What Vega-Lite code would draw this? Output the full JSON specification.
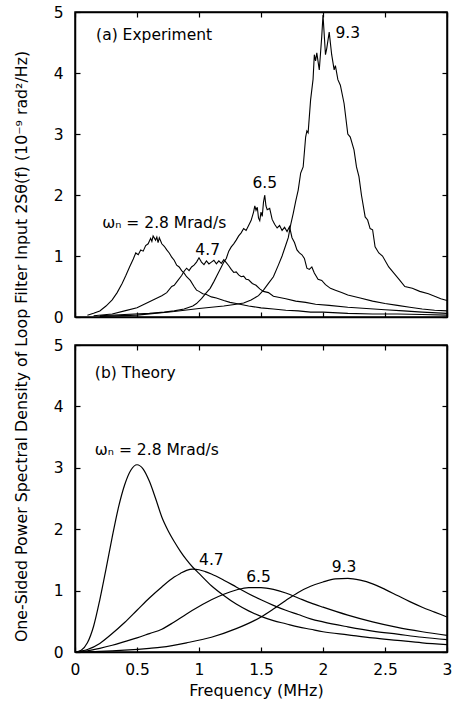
{
  "$schema": "https://vega.github.io/schema/vega-lite/v6.json",
  "padding": {"left": 12, "top": 4, "right": 0, "bottom": 0},
  "background": "white",
  "config": {
    "font": "DejaVu Sans",
    "view": {"stroke": "black", "strokeWidth": 1.5},
    "axis": {"domainColor": "black", "domainWidth": 1.5, "tickColor": "black", "tickSize": -5, "tickWidth": 1.2, "labelColor": "black", "labelFontSize": 15.5, "labelFlush": false, "grid": false, "titleColor": "black", "titleFontWeight": "normal", "labelFont": "DejaVu Sans", "titleFont": "DejaVu Sans"},
    "text": {"font": "DejaVu Sans", "fontSize": 15.5, "color": "black"}
  },
  "datasets": {
    "exp": [
      {"w":"2.8","f":0.1,"v":0.03},{"w":"2.8","f":0.15,"v":0.06},{"w":"2.8","f":0.2,"v":0.1},{"w":"2.8","f":0.25,"v":0.18},{"w":"2.8","f":0.3,"v":0.28},{"w":"2.8","f":0.34,"v":0.4},{"w":"2.8","f":0.38,"v":0.55},{"w":"2.8","f":0.41,"v":0.68},{"w":"2.8","f":0.44,"v":0.82},{"w":"2.8","f":0.47,"v":0.95},{"w":"2.8","f":0.49,"v":1.05},{"w":"2.8","f":0.51,"v":1.02},{"w":"2.8","f":0.53,"v":1.1},{"w":"2.8","f":0.55,"v":1.08},{"w":"2.8","f":0.57,"v":1.17},{"w":"2.8","f":0.59,"v":1.2},{"w":"2.8","f":0.61,"v":1.29},{"w":"2.8","f":0.62,"v":1.24},{"w":"2.8","f":0.63,"v":1.33},{"w":"2.8","f":0.65,"v":1.26},{"w":"2.8","f":0.66,"v":1.31},{"w":"2.8","f":0.67,"v":1.22},{"w":"2.8","f":0.68,"v":1.3},{"w":"2.8","f":0.7,"v":1.2},{"w":"2.8","f":0.72,"v":1.16},{"w":"2.8","f":0.74,"v":1.1},{"w":"2.8","f":0.76,"v":1.05},{"w":"2.8","f":0.78,"v":0.98},{"w":"2.8","f":0.8,"v":0.93},{"w":"2.8","f":0.82,"v":0.85},{"w":"2.8","f":0.84,"v":0.82},{"w":"2.8","f":0.86,"v":0.76},{"w":"2.8","f":0.88,"v":0.72},{"w":"2.8","f":0.9,"v":0.66},{"w":"2.8","f":0.93,"v":0.6},{"w":"2.8","f":0.96,"v":0.5},{"w":"2.8","f":0.98,"v":0.44},{"w":"2.8","f":1.0,"v":0.42},{"w":"2.8","f":1.03,"v":0.38},{"w":"2.8","f":1.06,"v":0.37},{"w":"2.8","f":1.1,"v":0.33},{"w":"2.8","f":1.14,"v":0.31},{"w":"2.8","f":1.2,"v":0.27},{"w":"2.8","f":1.25,"v":0.24},{"w":"2.8","f":1.3,"v":0.22},{"w":"2.8","f":1.4,"v":0.18},{"w":"2.8","f":1.5,"v":0.15},{"w":"2.8","f":1.6,"v":0.13},{"w":"2.8","f":1.7,"v":0.11},{"w":"2.8","f":1.8,"v":0.1},{"w":"2.8","f":1.9,"v":0.08},{"w":"2.8","f":2.0,"v":0.08},{"w":"2.8","f":2.2,"v":0.06},{"w":"2.8","f":2.4,"v":0.05},{"w":"2.8","f":2.6,"v":0.05},{"w":"2.8","f":2.8,"v":0.04},{"w":"2.8","f":3.0,"v":0.03},
      {"w":"4.7","f":0.15,"v":0.02},{"w":"4.7","f":0.3,"v":0.05},{"w":"4.7","f":0.4,"v":0.1},{"w":"4.7","f":0.5,"v":0.15},{"w":"4.7","f":0.55,"v":0.2},{"w":"4.7","f":0.6,"v":0.25},{"w":"4.7","f":0.65,"v":0.3},{"w":"4.7","f":0.7,"v":0.35},{"w":"4.7","f":0.74,"v":0.4},{"w":"4.7","f":0.78,"v":0.5},{"w":"4.7","f":0.8,"v":0.52},{"w":"4.7","f":0.83,"v":0.6},{"w":"4.7","f":0.86,"v":0.68},{"w":"4.7","f":0.88,"v":0.75},{"w":"4.7","f":0.9,"v":0.8},{"w":"4.7","f":0.92,"v":0.76},{"w":"4.7","f":0.94,"v":0.82},{"w":"4.7","f":0.96,"v":0.85},{"w":"4.7","f":0.98,"v":0.9},{"w":"4.7","f":1.0,"v":0.97},{"w":"4.7","f":1.02,"v":0.9},{"w":"4.7","f":1.04,"v":0.86},{"w":"4.7","f":1.06,"v":0.92},{"w":"4.7","f":1.08,"v":0.87},{"w":"4.7","f":1.1,"v":0.9},{"w":"4.7","f":1.12,"v":0.93},{"w":"4.7","f":1.14,"v":0.87},{"w":"4.7","f":1.16,"v":0.92},{"w":"4.7","f":1.18,"v":0.88},{"w":"4.7","f":1.2,"v":0.94},{"w":"4.7","f":1.22,"v":0.89},{"w":"4.7","f":1.24,"v":0.84},{"w":"4.7","f":1.26,"v":0.78},{"w":"4.7","f":1.28,"v":0.73},{"w":"4.7","f":1.3,"v":0.74},{"w":"4.7","f":1.32,"v":0.69},{"w":"4.7","f":1.34,"v":0.66},{"w":"4.7","f":1.36,"v":0.67},{"w":"4.7","f":1.38,"v":0.62},{"w":"4.7","f":1.4,"v":0.61},{"w":"4.7","f":1.43,"v":0.55},{"w":"4.7","f":1.46,"v":0.52},{"w":"4.7","f":1.49,"v":0.46},{"w":"4.7","f":1.52,"v":0.42},{"w":"4.7","f":1.56,"v":0.4},{"w":"4.7","f":1.6,"v":0.34},{"w":"4.7","f":1.65,"v":0.32},{"w":"4.7","f":1.7,"v":0.3},{"w":"4.7","f":1.78,"v":0.26},{"w":"4.7","f":1.86,"v":0.24},{"w":"4.7","f":1.94,"v":0.21},{"w":"4.7","f":2.05,"v":0.19},{"w":"4.7","f":2.2,"v":0.16},{"w":"4.7","f":2.35,"v":0.14},{"w":"4.7","f":2.5,"v":0.12},{"w":"4.7","f":2.65,"v":0.1},{"w":"4.7","f":2.8,"v":0.08},{"w":"4.7","f":3.0,"v":0.06},
      {"w":"6.5","f":0.2,"v":0.02},{"w":"6.5","f":0.4,"v":0.04},{"w":"6.5","f":0.6,"v":0.06},{"w":"6.5","f":0.72,"v":0.08},{"w":"6.5","f":0.8,"v":0.1},{"w":"6.5","f":0.88,"v":0.13},{"w":"6.5","f":0.95,"v":0.18},{"w":"6.5","f":0.98,"v":0.22},{"w":"6.5","f":1.02,"v":0.3},{"w":"6.5","f":1.06,"v":0.4},{"w":"6.5","f":1.09,"v":0.47},{"w":"6.5","f":1.12,"v":0.58},{"w":"6.5","f":1.15,"v":0.7},{"w":"6.5","f":1.18,"v":0.82},{"w":"6.5","f":1.2,"v":0.9},{"w":"6.5","f":1.22,"v":0.96},{"w":"6.5","f":1.24,"v":1.08},{"w":"6.5","f":1.26,"v":1.15},{"w":"6.5","f":1.28,"v":1.2},{"w":"6.5","f":1.3,"v":1.26},{"w":"6.5","f":1.32,"v":1.33},{"w":"6.5","f":1.34,"v":1.38},{"w":"6.5","f":1.36,"v":1.45},{"w":"6.5","f":1.38,"v":1.42},{"w":"6.5","f":1.4,"v":1.5},{"w":"6.5","f":1.42,"v":1.58},{"w":"6.5","f":1.44,"v":1.72},{"w":"6.5","f":1.45,"v":1.82},{"w":"6.5","f":1.46,"v":1.75},{"w":"6.5","f":1.47,"v":1.8},{"w":"6.5","f":1.48,"v":1.62},{"w":"6.5","f":1.49,"v":1.58},{"w":"6.5","f":1.5,"v":1.72},{"w":"6.5","f":1.51,"v":1.65},{"w":"6.5","f":1.52,"v":1.88},{"w":"6.5","f":1.53,"v":2.0},{"w":"6.5","f":1.54,"v":1.82},{"w":"6.5","f":1.55,"v":1.76},{"w":"6.5","f":1.57,"v":1.78},{"w":"6.5","f":1.59,"v":1.6},{"w":"6.5","f":1.61,"v":1.52},{"w":"6.5","f":1.63,"v":1.46},{"w":"6.5","f":1.65,"v":1.5},{"w":"6.5","f":1.67,"v":1.42},{"w":"6.5","f":1.69,"v":1.47},{"w":"6.5","f":1.71,"v":1.4},{"w":"6.5","f":1.73,"v":1.48},{"w":"6.5","f":1.75,"v":1.3},{"w":"6.5","f":1.77,"v":1.22},{"w":"6.5","f":1.79,"v":1.1},{"w":"6.5","f":1.81,"v":1.05},{"w":"6.5","f":1.83,"v":1.02},{"w":"6.5","f":1.85,"v":0.96},{"w":"6.5","f":1.87,"v":0.8},{"w":"6.5","f":1.89,"v":0.78},{"w":"6.5","f":1.91,"v":0.82},{"w":"6.5","f":1.93,"v":0.72},{"w":"6.5","f":1.96,"v":0.62},{"w":"6.5","f":1.99,"v":0.6},{"w":"6.5","f":2.02,"v":0.53},{"w":"6.5","f":2.06,"v":0.47},{"w":"6.5","f":2.1,"v":0.44},{"w":"6.5","f":2.15,"v":0.4},{"w":"6.5","f":2.2,"v":0.36},{"w":"6.5","f":2.3,"v":0.31},{"w":"6.5","f":2.4,"v":0.26},{"w":"6.5","f":2.5,"v":0.22},{"w":"6.5","f":2.6,"v":0.19},{"w":"6.5","f":2.7,"v":0.16},{"w":"6.5","f":2.8,"v":0.13},{"w":"6.5","f":2.9,"v":0.11},{"w":"6.5","f":3.0,"v":0.1},
      {"w":"9.3","f":0.2,"v":0.01},{"w":"9.3","f":0.5,"v":0.03},{"w":"9.3","f":0.8,"v":0.09},{"w":"9.3","f":1.0,"v":0.14},{"w":"9.3","f":1.1,"v":0.16},{"w":"9.3","f":1.2,"v":0.18},{"w":"9.3","f":1.3,"v":0.21},{"w":"9.3","f":1.36,"v":0.23},{"w":"9.3","f":1.42,"v":0.28},{"w":"9.3","f":1.48,"v":0.35},{"w":"9.3","f":1.52,"v":0.44},{"w":"9.3","f":1.56,"v":0.55},{"w":"9.3","f":1.6,"v":0.66},{"w":"9.3","f":1.64,"v":0.85},{"w":"9.3","f":1.67,"v":1.0},{"w":"9.3","f":1.7,"v":1.18},{"w":"9.3","f":1.72,"v":1.3},{"w":"9.3","f":1.74,"v":1.52},{"w":"9.3","f":1.76,"v":1.7},{"w":"9.3","f":1.78,"v":1.9},{"w":"9.3","f":1.8,"v":2.08},{"w":"9.3","f":1.82,"v":2.36},{"w":"9.3","f":1.84,"v":2.46},{"w":"9.3","f":1.86,"v":2.95},{"w":"9.3","f":1.87,"v":3.05},{"w":"9.3","f":1.88,"v":3.02},{"w":"9.3","f":1.9,"v":3.56},{"w":"9.3","f":1.92,"v":3.9},{"w":"9.3","f":1.93,"v":4.3},{"w":"9.3","f":1.94,"v":4.2},{"w":"9.3","f":1.95,"v":4.33},{"w":"9.3","f":1.97,"v":4.05},{"w":"9.3","f":1.99,"v":4.6},{"w":"9.3","f":2.0,"v":4.95},{"w":"9.3","f":2.02,"v":4.3},{"w":"9.3","f":2.03,"v":4.4},{"w":"9.3","f":2.05,"v":4.67},{"w":"9.3","f":2.07,"v":4.3},{"w":"9.3","f":2.09,"v":4.05},{"w":"9.3","f":2.1,"v":4.12},{"w":"9.3","f":2.12,"v":3.89},{"w":"9.3","f":2.14,"v":3.8},{"w":"9.3","f":2.17,"v":3.5},{"w":"9.3","f":2.2,"v":3.0},{"w":"9.3","f":2.22,"v":2.95},{"w":"9.3","f":2.25,"v":2.74},{"w":"9.3","f":2.27,"v":2.46},{"w":"9.3","f":2.29,"v":2.3},{"w":"9.3","f":2.31,"v":2.0},{"w":"9.3","f":2.34,"v":1.64},{"w":"9.3","f":2.36,"v":1.59},{"w":"9.3","f":2.38,"v":1.45},{"w":"9.3","f":2.4,"v":1.43},{"w":"9.3","f":2.42,"v":1.15},{"w":"9.3","f":2.45,"v":1.05},{"w":"9.3","f":2.48,"v":1.0},{"w":"9.3","f":2.53,"v":0.82},{"w":"9.3","f":2.58,"v":0.7},{"w":"9.3","f":2.62,"v":0.6},{"w":"9.3","f":2.66,"v":0.5},{"w":"9.3","f":2.72,"v":0.47},{"w":"9.3","f":2.78,"v":0.42},{"w":"9.3","f":2.85,"v":0.38},{"w":"9.3","f":2.9,"v":0.34},{"w":"9.3","f":2.95,"v":0.3},{"w":"9.3","f":3.0,"v":0.27}
    ],
    "theo": [
      {"w":"2.8","f":0,"v":0},{"w":"2.8","f":0.05,"v":0.03},{"w":"2.8","f":0.1,"v":0.15},{"w":"2.8","f":0.15,"v":0.42},{"w":"2.8","f":0.2,"v":0.85},{"w":"2.8","f":0.25,"v":1.35},{"w":"2.8","f":0.3,"v":1.87},{"w":"2.8","f":0.35,"v":2.35},{"w":"2.8","f":0.4,"v":2.72},{"w":"2.8","f":0.45,"v":2.96},{"w":"2.8","f":0.5,"v":3.05},{"w":"2.8","f":0.55,"v":2.98},{"w":"2.8","f":0.6,"v":2.78},{"w":"2.8","f":0.65,"v":2.5},{"w":"2.8","f":0.7,"v":2.2},{"w":"2.8","f":0.75,"v":1.98},{"w":"2.8","f":0.8,"v":1.8},{"w":"2.8","f":0.85,"v":1.64},{"w":"2.8","f":0.9,"v":1.5},{"w":"2.8","f":0.95,"v":1.38},{"w":"2.8","f":1.0,"v":1.28},{"w":"2.8","f":1.1,"v":1.08},{"w":"2.8","f":1.2,"v":0.92},{"w":"2.8","f":1.3,"v":0.78},{"w":"2.8","f":1.4,"v":0.67},{"w":"2.8","f":1.5,"v":0.58},{"w":"2.8","f":1.6,"v":0.51},{"w":"2.8","f":1.7,"v":0.46},{"w":"2.8","f":1.8,"v":0.41},{"w":"2.8","f":1.9,"v":0.37},{"w":"2.8","f":2.0,"v":0.33},{"w":"2.8","f":2.2,"v":0.28},{"w":"2.8","f":2.4,"v":0.23},{"w":"2.8","f":2.6,"v":0.19},{"w":"2.8","f":2.8,"v":0.15},{"w":"2.8","f":3.0,"v":0.12},
      {"w":"4.7","f":0,"v":0},{"w":"4.7","f":0.1,"v":0.04},{"w":"4.7","f":0.2,"v":0.14},{"w":"4.7","f":0.3,"v":0.3},{"w":"4.7","f":0.4,"v":0.48},{"w":"4.7","f":0.5,"v":0.68},{"w":"4.7","f":0.6,"v":0.88},{"w":"4.7","f":0.7,"v":1.06},{"w":"4.7","f":0.8,"v":1.22},{"w":"4.7","f":0.85,"v":1.28},{"w":"4.7","f":0.9,"v":1.33},{"w":"4.7","f":0.95,"v":1.35},{"w":"4.7","f":1.0,"v":1.34},{"w":"4.7","f":1.05,"v":1.31},{"w":"4.7","f":1.1,"v":1.27},{"w":"4.7","f":1.2,"v":1.17},{"w":"4.7","f":1.3,"v":1.06},{"w":"4.7","f":1.4,"v":0.95},{"w":"4.7","f":1.5,"v":0.85},{"w":"4.7","f":1.6,"v":0.76},{"w":"4.7","f":1.7,"v":0.68},{"w":"4.7","f":1.8,"v":0.61},{"w":"4.7","f":1.9,"v":0.54},{"w":"4.7","f":2.0,"v":0.49},{"w":"4.7","f":2.2,"v":0.41},{"w":"4.7","f":2.4,"v":0.34},{"w":"4.7","f":2.6,"v":0.29},{"w":"4.7","f":2.8,"v":0.24},{"w":"4.7","f":3.0,"v":0.2},
      {"w":"6.5","f":0,"v":0},{"w":"6.5","f":0.1,"v":0.02},{"w":"6.5","f":0.2,"v":0.06},{"w":"6.5","f":0.3,"v":0.11},{"w":"6.5","f":0.4,"v":0.17},{"w":"6.5","f":0.5,"v":0.23},{"w":"6.5","f":0.6,"v":0.3},{"w":"6.5","f":0.7,"v":0.37},{"w":"6.5","f":0.8,"v":0.49},{"w":"6.5","f":0.9,"v":0.62},{"w":"6.5","f":1.0,"v":0.74},{"w":"6.5","f":1.1,"v":0.85},{"w":"6.5","f":1.2,"v":0.94},{"w":"6.5","f":1.3,"v":1.01},{"w":"6.5","f":1.4,"v":1.05},{"w":"6.5","f":1.5,"v":1.05},{"w":"6.5","f":1.6,"v":1.02},{"w":"6.5","f":1.7,"v":0.96},{"w":"6.5","f":1.8,"v":0.88},{"w":"6.5","f":1.9,"v":0.8},{"w":"6.5","f":2.0,"v":0.73},{"w":"6.5","f":2.2,"v":0.6},{"w":"6.5","f":2.4,"v":0.49},{"w":"6.5","f":2.6,"v":0.4},{"w":"6.5","f":2.8,"v":0.33},{"w":"6.5","f":3.0,"v":0.27},
      {"w":"9.3","f":0,"v":0},{"w":"9.3","f":0.2,"v":0.01},{"w":"9.3","f":0.4,"v":0.03},{"w":"9.3","f":0.6,"v":0.06},{"w":"9.3","f":0.7,"v":0.08},{"w":"9.3","f":0.9,"v":0.15},{"w":"9.3","f":1.1,"v":0.24},{"w":"9.3","f":1.3,"v":0.38},{"w":"9.3","f":1.5,"v":0.57},{"w":"9.3","f":1.6,"v":0.7},{"w":"9.3","f":1.7,"v":0.84},{"w":"9.3","f":1.8,"v":0.97},{"w":"9.3","f":1.9,"v":1.07},{"w":"9.3","f":2.0,"v":1.14},{"w":"9.3","f":2.1,"v":1.19},{"w":"9.3","f":2.2,"v":1.2},{"w":"9.3","f":2.3,"v":1.17},{"w":"9.3","f":2.4,"v":1.11},{"w":"9.3","f":2.5,"v":1.02},{"w":"9.3","f":2.6,"v":0.92},{"w":"9.3","f":2.7,"v":0.82},{"w":"9.3","f":2.8,"v":0.73},{"w":"9.3","f":2.9,"v":0.65},{"w":"9.3","f":3.0,"v":0.57}
    ],
    "labAL": [
      {"t":"(a) Experiment","f":0.17,"v":4.62},
      {"t":"ωₙ = 2.8 Mrad/s","f":0.22,"v":1.54}
    ],
    "labAC": [
      {"t":"4.7","f":1.07,"v":1.1},
      {"t":"6.5","f":1.53,"v":2.2},
      {"t":"9.3","f":2.2,"v":4.65}
    ],
    "labBL": [
      {"t":"(b) Theory","f":0.16,"v":4.54},
      {"t":"ωₙ = 2.8 Mrad/s","f":0.16,"v":3.29}
    ],
    "labBC": [
      {"t":"4.7","f":1.1,"v":1.5},
      {"t":"6.5","f":1.48,"v":1.22},
      {"t":"9.3","f":2.17,"v":1.38}
    ]
  },
  "spacing": 28,
  "bounds": "flush",
  "vconcat": [
    {
      "width": 372,
      "height": 305,
      "resolve": {"axis": {"x": "independent", "y": "independent"}},
      "layer": [
        {
          "data": {"name": "exp"},
          "mark": {"type": "line", "color": "black", "strokeWidth": 1.1},
          "encoding": {
            "x": {"field": "f", "type": "quantitative", "scale": {"domain": [0, 3], "nice": false}, "axis": {"values": [0, 0.5, 1, 1.5, 2, 2.5, 3], "labels": false, "title": null, "orient": "bottom"}},
            "y": {"field": "v", "type": "quantitative", "scale": {"domain": [0, 5], "nice": false}, "axis": {"values": [0, 1, 2, 3, 4, 5], "format": "~g", "labelPadding": 17, "title": "One-Sided Power Spectral Density of Loop Filter Input 2Sθ(f) (10⁻⁹ rad²/Hz)", "titleX": -54, "titleY": 334, "titleAngle": 270, "titleAlign": "center", "titleBaseline": "middle", "titleFontSize": 15.8}},
            "detail": {"field": "w"}
          }
        },
        {
          "data": {"name": "labAL"},
          "mark": {"type": "text", "align": "left", "baseline": "middle"},
          "encoding": {
            "x": {"field": "f", "type": "quantitative", "axis": {"values": [0, 0.5, 1, 1.5, 2, 2.5, 3], "labels": false, "title": null, "orient": "top"}},
            "y": {"field": "v", "type": "quantitative", "axis": {"values": [0, 1, 2, 3, 4, 5], "labels": false, "title": null, "orient": "right"}},
            "text": {"field": "t"}
          }
        },
        {
          "data": {"name": "labAC"},
          "mark": {"type": "text", "align": "center", "baseline": "middle"},
          "encoding": {
            "x": {"field": "f", "type": "quantitative", "axis": null},
            "y": {"field": "v", "type": "quantitative", "axis": null},
            "text": {"field": "t"}
          }
        }
      ]
    },
    {
      "width": 372,
      "height": 307,
      "resolve": {"axis": {"x": "independent", "y": "independent"}},
      "layer": [
        {
          "data": {"name": "theo"},
          "mark": {"type": "line", "color": "black", "strokeWidth": 1.2, "interpolate": "monotone"},
          "encoding": {
            "x": {"field": "f", "type": "quantitative", "scale": {"domain": [0, 3], "nice": false}, "axis": {"values": [0, 0.5, 1, 1.5, 2, 2.5, 3], "format": "~g", "labelPadding": 15, "title": "Frequency (MHz)", "titleFontSize": 16, "titleX": 181, "titleY": 43, "titleAlign": "center", "titleBaseline": "alphabetic", "orient": "bottom"}},
            "y": {"field": "v", "type": "quantitative", "scale": {"domain": [0, 5], "nice": false}, "axis": {"values": [0, 1, 2, 3, 4, 5], "format": "~g", "labelPadding": 17, "title": null}},
            "detail": {"field": "w"}
          }
        },
        {
          "data": {"name": "labBL"},
          "mark": {"type": "text", "align": "left", "baseline": "middle"},
          "encoding": {
            "x": {"field": "f", "type": "quantitative", "axis": {"values": [0, 0.5, 1, 1.5, 2, 2.5, 3], "labels": false, "title": null, "orient": "top"}},
            "y": {"field": "v", "type": "quantitative", "axis": {"values": [0, 1, 2, 3, 4, 5], "labels": false, "title": null, "orient": "right"}},
            "text": {"field": "t"}
          }
        },
        {
          "data": {"name": "labBC"},
          "mark": {"type": "text", "align": "center", "baseline": "middle"},
          "encoding": {
            "x": {"field": "f", "type": "quantitative", "axis": null},
            "y": {"field": "v", "type": "quantitative", "axis": null},
            "text": {"field": "t"}
          }
        }
      ]
    }
  ]
}
